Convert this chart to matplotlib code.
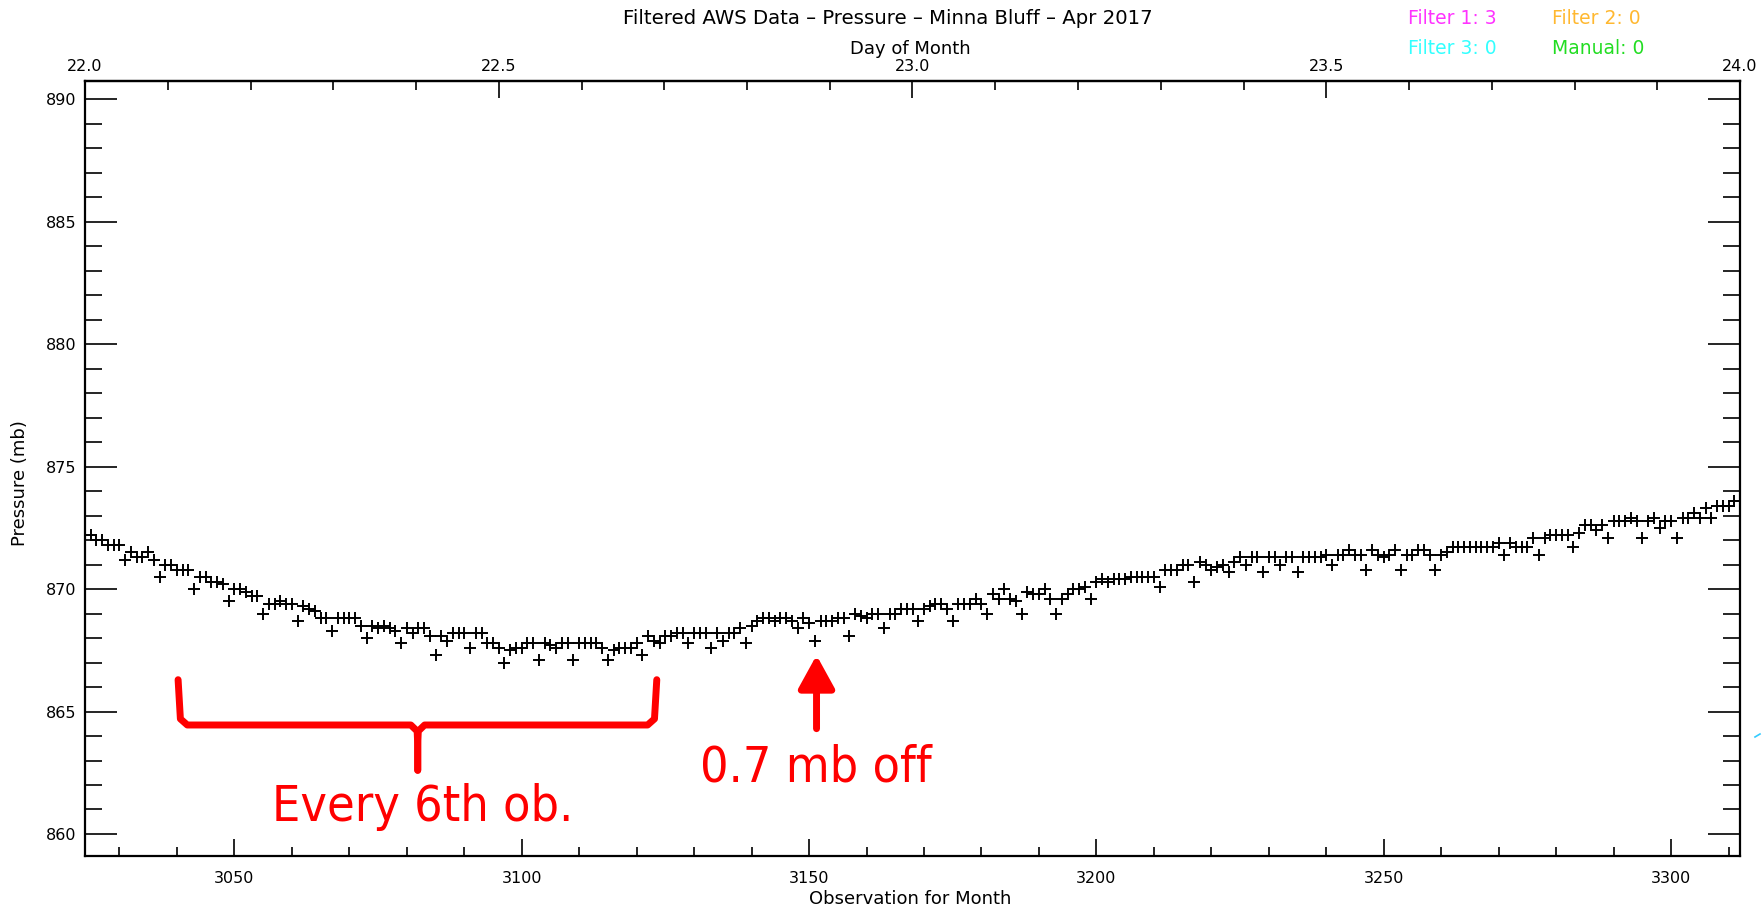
import numpy as np
import matplotlib
matplotlib.use("Agg")
import matplotlib.pyplot as plt
from matplotlib.lines import Line2D

# =====================================================
# Data (obs 3025..3311)
# =====================================================

FIRST_OB = 3025

pressure = [
    872.2, 872.0, 872.0, 871.8, 871.8, 871.8,
    871.2, 871.5, 871.3, 871.3, 871.5, 871.2,
    870.5, 871.0, 871.0, 870.8, 870.8, 870.8,
    870.0, 870.5, 870.5, 870.3, 870.3, 870.2,
    869.5, 870.0, 870.0, 869.9, 869.7, 869.7,
    869.0, 869.4, 869.4, 869.5, 869.4, 869.4,
    868.7, 869.3, 869.2, 869.1, 868.8, 868.8,
    868.3, 868.8, 868.8, 868.8, 868.8, 868.5,
    868.0, 868.5, 868.4, 868.5, 868.4, 868.3,
    867.8, 868.4, 868.2, 868.4, 868.4, 868.1,
    867.3, 868.1, 867.9, 868.2, 868.2, 868.2,
    867.6, 868.2, 868.2, 867.8, 867.8, 867.6,
    867.0, 867.5, 867.6, 867.6, 867.8, 867.8,
    867.1, 867.8, 867.7, 867.6, 867.8, 867.8,
    867.1, 867.8, 867.8, 867.8, 867.8, 867.6,
    867.1, 867.5, 867.6, 867.6, 867.6, 867.8,
    867.3, 868.1, 867.9, 867.8, 868.1, 868.1,
    868.2, 868.2, 867.8, 868.2, 868.2, 868.2,
    867.6, 868.2, 867.9, 868.2, 868.2, 868.4,
    867.8, 868.5, 868.7, 868.8, 868.8, 868.7,
    868.8, 868.8, 868.7, 868.4, 868.8, 868.6,
    867.9, 868.7, 868.7, 868.7, 868.8, 868.8,
    868.1, 869.0, 868.9, 868.8, 869.0, 869.0,
    868.4, 869.0, 869.0, 869.2, 869.2, 869.2,
    868.7, 869.2, 869.3, 869.4, 869.4, 869.2,
    868.7, 869.4, 869.4, 869.4, 869.6, 869.4,
    869.0, 869.8, 869.6, 870.0, 869.6, 869.5,
    869.0, 869.9, 869.8, 869.8, 870.0, 869.6,
    869.0, 869.6, 869.8, 870.0, 870.0, 870.1,
    869.6, 870.3, 870.4, 870.3, 870.4, 870.4,
    870.4, 870.5, 870.5, 870.5, 870.5, 870.5,
    870.1, 870.8, 870.8, 870.8, 871.0, 871.0,
    870.3, 871.1, 871.0, 870.8, 870.9, 871.0,
    870.7, 871.1, 871.3, 871.0, 871.3, 871.3,
    870.7, 871.3, 871.3, 871.0, 871.3, 871.3,
    870.7, 871.3, 871.3, 871.3, 871.3, 871.4,
    871.0, 871.4, 871.4, 871.6, 871.4, 871.4,
    870.8, 871.6, 871.4, 871.3, 871.4, 871.6,
    870.8, 871.4, 871.4, 871.6, 871.6, 871.4,
    870.8, 871.4, 871.5, 871.7, 871.7, 871.7,
    871.7, 871.7, 871.7, 871.7, 871.7, 871.9,
    871.4, 871.9, 871.7, 871.7, 871.7, 872.1,
    871.4, 872.1, 872.2, 872.2, 872.2, 872.2,
    871.7, 872.3, 872.6, 872.6, 872.4, 872.6,
    872.1, 872.8, 872.8, 872.8, 872.9, 872.8,
    872.1, 872.8, 872.9, 872.5, 872.8, 872.8,
    872.1, 872.9, 872.9, 873.1, 872.9, 873.3,
    872.9, 873.4, 873.4, 873.4, 873.6,
]

obs = np.arange(FIRST_OB, FIRST_OB + len(pressure))

x_range = (3024, 3312)
y_range = (859.1, 890.75)
x_major = [3050, 3100, 3150, 3200, 3250, 3300]
y_major = [860, 865, 870, 875, 880, 885, 890]
day_major = [22.0, 22.5, 23.0, 23.5, 24.0]

title = "Filtered AWS Data \u2013 Pressure \u2013 Minna Bluff \u2013 Apr 2017"
counters = [
    ("Filter 1: 3", "#ff33ff", 0.799, 0.980),
    ("Filter 2: 0", "#ffb830", 0.881, 0.980),
    ("Filter 3: 0", "#33ffff", 0.799, 0.947),
    ("Manual: 0", "#22dd22", 0.881, 0.947),
]

# =====================================================
# Figure
# =====================================================

fig = plt.figure(figsize=(17.62, 9.09), dpi=100)
ax = fig.add_axes([85/1762, 1-856/909, 1655/1762, 775/909])

ax.plot(obs, pressure, linestyle='none', marker='+', markersize=8.5,
        markeredgewidth=1.4, color='black')

ax.set_xlim(*x_range)
ax.set_ylim(*y_range)

ax.set_xticks(x_major)
ax.set_xticks(np.arange(3030, 3311, 10), minor=True)
ax.set_yticks(y_major)
ax.set_yticks(np.arange(860, 891, 1), minor=True)

for lab in ax.get_xticklabels() + ax.get_yticklabels():
    lab.set_fontsize(11.5)

ax.tick_params(axis='x', which='major', direction='in', length=12, width=1.2,
               pad=11, top=False)
ax.tick_params(axis='x', which='minor', direction='in', length=6.5, width=1.2,
               top=False)
ax.tick_params(axis='y', which='major', direction='in', length=23, width=1.2,
               pad=6, right=True)
ax.tick_params(axis='y', which='minor', direction='in', length=12, width=1.2,
               right=True)

for s in ax.spines.values():
    s.set_linewidth(1.6)

top = ax.secondary_xaxis('top', functions=(lambda o: o/144 + 1,
                                           lambda d: (d - 1)*144))
top.set_xticks(day_major)
top.set_xticks(np.arange(22.0, 24.01, 0.1), minor=True)
top.set_xticklabels(['%.1f' % d for d in day_major])
for lab in top.get_xticklabels():
    lab.set_fontsize(11.5)
top.tick_params(axis='x', which='major', direction='in', length=12, width=1.2, pad=5)
top.tick_params(axis='x', which='minor', direction='in', length=6.5, width=1.2)
top.spines['top'].set_linewidth(1.6)

# titles and labels
fig.text(888/1762, 1-18/909, title, ha='center', va='center', fontsize=14.2)
fig.text(910/1762, 1-49/909, "Day of Month", ha='center', va='center', fontsize=13)
fig.text(910/1762, 1-899/909, "Observation for Month", ha='center', va='center',
         fontsize=13)
fig.text(20/1762, 1-483/909, "Pressure (mb)", ha='center', va='center',
         rotation=90, fontsize=13)
for txt, col, fx, fy in counters:
    fig.text(fx, fy, txt, ha='left', va='center', color=col, fontsize=13.5)

fig.add_artist(Line2D([1755/1762, 1760/1762], [1-737/909, 1-734/909],
                      color='#33ccff', lw=1.2))

# =====================================================
# Red annotations
# =====================================================

brace_y, brace_top, brace_tip = 864.45, 866.3, 862.6
brace_l, brace_r, brace_c = 3040.2, 3123.5, 3081.9

brace_yy = [brace_top, brace_y + 0.25, brace_y, brace_y, brace_y - 0.25,
            brace_y - 0.8, brace_tip]
left_x = [brace_l, brace_l + 0.4, brace_l + 1.6, brace_c - 1.2, brace_c - 0.1,
          brace_c, brace_c]
right_x = [brace_r, brace_r - 0.4, brace_r - 1.6, brace_c + 1.2, brace_c + 0.1,
           brace_c, brace_c]
for bx in (left_x, right_x):
    ax.plot(bx, brace_yy, color='red', lw=5, solid_capstyle='round',
            solid_joinstyle='round', clip_on=False)

ax.text(3082.8, 861.1, "Every 6th ob.", color='red', ha='center', va='center',
        fontsize=36, fontstretch='condensed')

ax.annotate('', xy=(3151.3, 867.3), xytext=(3151.3, 864.3),
            arrowprops=dict(arrowstyle='-|>,head_length=1.0,head_width=0.55',
                            mutation_scale=20, color='red', lw=5,
                            shrinkA=0, shrinkB=0, capstyle='round'))
ax.text(3151.1, 862.7, "0.7 mb off", color='red', ha='center', va='center',
        fontsize=36, fontstretch='condensed')

fig.savefig("out.png", dpi=100)
